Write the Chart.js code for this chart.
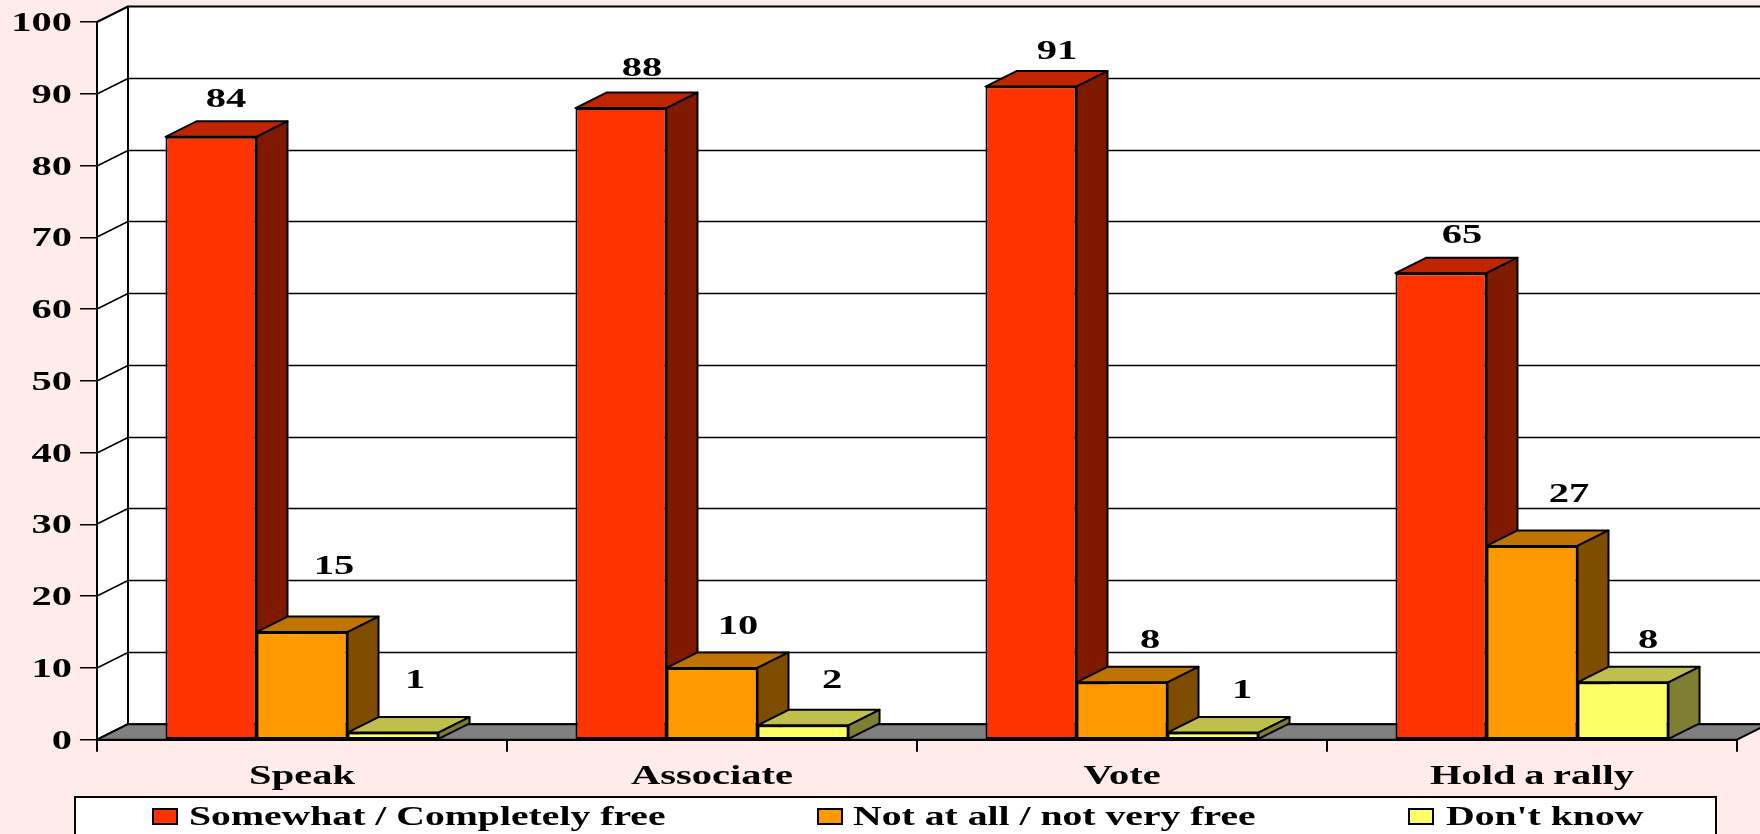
<!DOCTYPE html>
<html>
<head>
<meta charset="utf-8">
<title>Freedom to speak, associate, vote and rally</title>
<script src="https://cdn.jsdelivr.net/npm/chart.js@4/dist/chart.umd.min.js"></script>
<style>
  html, body { margin: 0; padding: 0; background: #ffecea; overflow: hidden; }
  canvas { display: block; }
</style>
</head>
<body>
<canvas id="free-chart" width="1760" height="834"></canvas>
<script>
// Survey results
const categories = ["Speak", "Associate", "Vote", "Hold a rally"];
const freeValues = [84, 88, 91, 65];
const notFreeValues = [15, 10, 8, 27];
const dontKnowValues = [1, 2, 1, 8];
const seriesNames = ["Somewhat / Completely free", "Not at all / not very free", "Don't know"];

// Face colours per series: front, top, side
const faces = [
  ["#ff3300", "#bf2600", "#7f1a00"],
  ["#ff9900", "#bf7300", "#7f4d00"],
  ["#ffff66", "#bfbf4d", "#7f7f33"],
];

// Fake 3D depth of the bars and walls
const depthX = 31;
const depthY = 15.5;

// Value labels sit loosely above the bars, offsets from each bar's centre/top
const labelDx = [[15, 21, 26, 21], [32, 26, 28, 37], [22, 29, 29, 25]];
const labelDy = [[-39, -41, -37, -39], [-67, -43, -43, -53], [-54, -46, -44, -43]];

const legendSwatchX = [153, 818, 1409];
const legendTextX = [189, 853, 1446];

// All text is a wide bold serif, stretched sideways
function wideText(ctx, text, x, y, align, stretch) {
  ctx.save();
  ctx.font = "bold 27px 'Liberation Serif'";
  ctx.fillStyle = "#000";
  ctx.textBaseline = "alphabetic";
  ctx.textAlign = align;
  ctx.translate(x, y);
  ctx.scale(stretch || 1.5, 1);
  ctx.fillText(text, 0, 0);
  ctx.restore();
}

function poly(ctx, points, fill) {
  ctx.beginPath();
  points.forEach((p, i) => (i ? ctx.lineTo(p[0], p[1]) : ctx.moveTo(p[0], p[1])));
  ctx.closePath();
  if (fill) {
    ctx.fillStyle = fill;
    ctx.fill();
  }
  ctx.stroke();
}

const box3d = {
  id: "box3d",
  // side wall, back wall, floor and the grid that runs over them
  beforeDraw(chart) {
    const { ctx, chartArea: a, scales } = chart;
    const y = scales.y;
    ctx.save();
    ctx.strokeStyle = "#000";
    ctx.lineWidth = 2;
    ctx.lineJoin = "round";
    const backL = a.left + depthX;
    const backR = a.right + depthX;
    poly(ctx, [[backL, a.top - depthY], [backR, a.top - depthY], [backR, a.bottom - depthY], [backL, a.bottom - depthY]], "#fff");
    poly(ctx, [[a.left, a.top], [backL, a.top - depthY], [backL, a.bottom - depthY], [a.left, a.bottom]], "#fff");
    poly(ctx, [[a.left, a.bottom], [backL, a.bottom - depthY], [backR, a.bottom - depthY], [a.right, a.bottom]], "#808080");
    ctx.lineWidth = 1.5;
    y.ticks.forEach((t) => {
      const py = Math.round(y.getPixelForValue(t.value));
      if (t.value === 0 || t.value === 100) return;
      ctx.beginPath();
      ctx.moveTo(a.left, py);
      ctx.lineTo(backL, py - depthY);
      ctx.lineTo(backR, py - depthY);
      ctx.stroke();
    });
    ctx.restore();
  },
  // top and side faces all go in before any front face, left series first
  beforeDatasetsDraw(chart) {
    const { ctx } = chart;
    ctx.save();
    ctx.strokeStyle = "#000";
    ctx.lineWidth = 2;
    ctx.lineJoin = "round";
    chart.data.datasets.forEach((ds, i) => {
      chart.getDatasetMeta(i).data.forEach((bar) => {
        const l = bar.x - bar.width / 2;
        const r = bar.x + bar.width / 2;
        poly(ctx, [[l, bar.y], [l + depthX, bar.y - depthY], [r + depthX, bar.y - depthY], [r, bar.y]], faces[i][1]);
        poly(ctx, [[r, bar.y], [r + depthX, bar.y - depthY], [r + depthX, bar.base - depthY], [r, bar.base]], faces[i][2]);
      });
    });
    ctx.restore();
  },
  afterDraw(chart) {
    const { ctx, scales } = chart;

    scales.y.ticks.forEach((t) => {
      wideText(ctx, String(t.value), 72, scales.y.getPixelForValue(t.value) + 9, "right");
    });
    ctx.wordSpacing = "-1px";
    categories.forEach((name, i) => {
      wideText(ctx, name, scales.x.getPixelForValue(i), 784, "center");
    });
    ctx.wordSpacing = "0px";

    // value labels
    chart.data.datasets.forEach((ds, i) => {
      chart.getDatasetMeta(i).data.forEach((bar, j) => {
        wideText(ctx, String(ds.data[j]), bar.x + labelDx[i][j], bar.y + labelDy[i][j] + 9, "center");
      });
    });

    // legend box runs off the bottom of the canvas
    ctx.save();
    ctx.strokeStyle = "#000";
    ctx.lineWidth = 2;
    ctx.fillStyle = "#fff";
    ctx.fillRect(75, 797, 1641, 50);
    ctx.strokeRect(75, 797, 1641, 50);
    chart.data.datasets.forEach((ds, i) => {
      ctx.fillStyle = faces[i][0];
      ctx.fillRect(legendSwatchX[i], 809, 24, 15);
      ctx.strokeRect(legendSwatchX[i], 809, 24, 15);
      wideText(ctx, ds.label, legendTextX[i], 825, "left", 1.47);
    });
    ctx.restore();
  },
};

const barDataset = (i, values) => ({
  label: seriesNames[i],
  data: values,
  backgroundColor: faces[i][0],
  borderColor: "#000",
  borderWidth: 2,
  borderSkipped: false,
  categoryPercentage: 0.666,
  barPercentage: 1,
  clip: false,
});

new Chart(document.getElementById("free-chart"), {
  type: "bar",
  data: {
    labels: categories,
    datasets: [barDataset(0, freeValues), barDataset(1, notFreeValues), barDataset(2, dontKnowValues)],
  },
  options: {
    responsive: false,
    animation: false,
    layout: { padding: { top: 22, right: 23, left: 0, bottom: 0 } },
    plugins: { legend: { display: false }, tooltip: { enabled: false } },
    scales: {
      x: {
        afterFit: (scale) => { scale.height = 94.3; },
        ticks: { display: false },
        grid: { offset: true, drawOnChartArea: false, color: "#000", lineWidth: 2, tickLength: 12 },
        border: { color: "#000", width: 2 },
      },
      y: {
        min: 0,
        max: 100,
        afterFit: (scale) => { scale.width = 97; },
        ticks: { display: false, stepSize: 10 },
        grid: { drawOnChartArea: false, color: "#000", lineWidth: 1.5, tickLength: 17 },
        border: { color: "#000", width: 2 },
      },
    },
  },
  plugins: [box3d],
});
</script>
</body>
</html>
